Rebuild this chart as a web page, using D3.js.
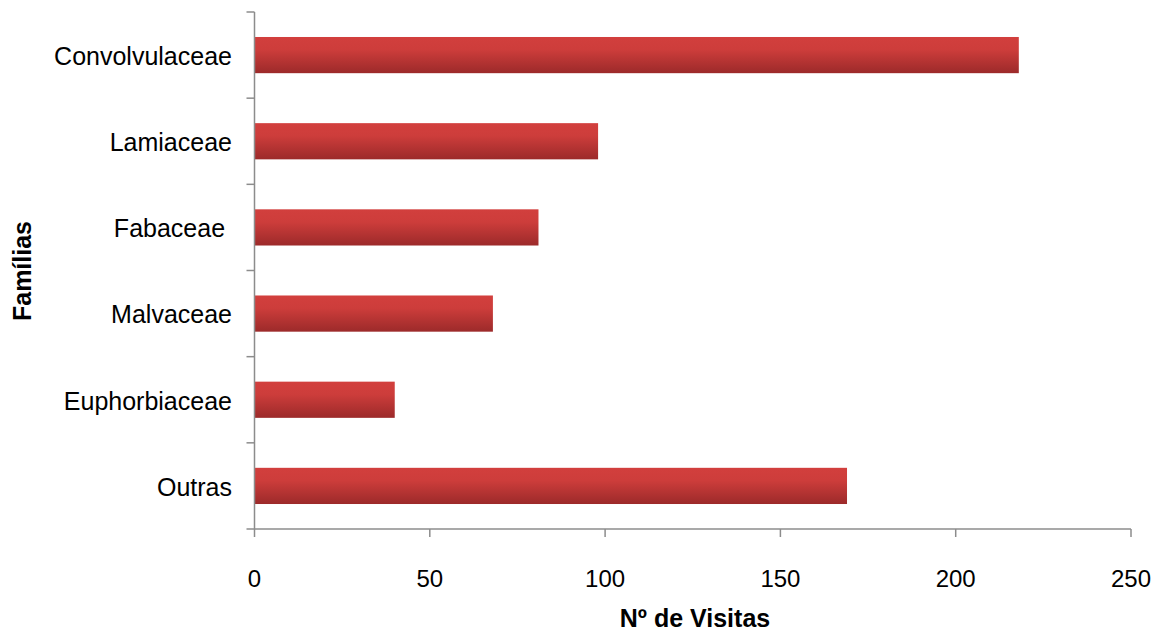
<!DOCTYPE html>
<html><head><meta charset="utf-8">
<script src="https://cdn.jsdelivr.net/npm/d3@7"></script>
<style>body{margin:0;background:#fff}text{font-family:"Liberation Sans",Arial,sans-serif;white-space:pre}</style>
</head><body><svg id="c" width="1162" height="632"></svg>
<script>
const categories = ["Convolvulaceae","Lamiaceae","Fabaceae ","Malvaceae","Euphorbiaceae","Outras"];
const values = [218, 98, 81, 68, 40, 169];
const xTicks = [0,50,100,150,200,250];

(function(){
const svg = d3.select("#c");
const mLeft = 254.5, mRight = 1131, mTop = 12, mBottom = 529;
const x = d3.scaleLinear().domain([0,250]).range([mLeft,mRight]);
const y = d3.scaleBand().domain(categories).range([mTop,mBottom]).paddingInner(0.58).paddingOuter(0.29);

const defs = svg.append("defs");
const g = defs.append("linearGradient").attr("id","bg").attr("x1",0).attr("y1",0).attr("x2",0).attr("y2",1);
g.append("stop").attr("offset","0%").attr("stop-color","#d23f3d");
g.append("stop").attr("offset","35%").attr("stop-color","#cd3d3b");
g.append("stop").attr("offset","100%").attr("stop-color","#9c2a2a");

const data = categories.map((c,i)=>({c,v:values[i]}));
svg.selectAll("rect.bar").data(data).join("rect").attr("class","bar")
  .attr("x",x(0)).attr("y",d=>y(d.c)).attr("width",d=>x(d.v)-x(0)).attr("height",y.bandwidth())
  .attr("fill","url(#bg)");

const axisColor = "#8c8c8c";
const ya = svg.append("g");
ya.append("line").attr("x1",mLeft).attr("x2",mLeft).attr("y1",mTop).attr("y2",mBottom).attr("stroke",axisColor).attr("stroke-width",1.5);
const step = (mBottom-mTop)/categories.length;
d3.range(categories.length+1).forEach(i=>{
  ya.append("line").attr("x1",mLeft-8).attr("x2",mLeft).attr("y1",mTop+i*step).attr("y2",mTop+i*step).attr("stroke",axisColor).attr("stroke-width",1.5);
});
ya.selectAll("text").data(categories).join("text")
  .attr("x",232).attr("y",d=>y(d)+y.bandwidth()/2+1).attr("dy","0.35em")
  .attr("text-anchor","end").attr("font-size",25).attr("fill","#000").text(d=>d);

const xa = svg.append("g");
xa.append("line").attr("x1",mLeft).attr("x2",mRight).attr("y1",mBottom).attr("y2",mBottom).attr("stroke",axisColor).attr("stroke-width",1.5);
xTicks.forEach(t=>{
  xa.append("line").attr("x1",x(t)).attr("x2",x(t)).attr("y1",mBottom).attr("y2",mBottom+8).attr("stroke",axisColor).attr("stroke-width",1.5);
  xa.append("text").attr("x",x(t)).attr("y",579).attr("dy","0.35em").attr("text-anchor","middle").attr("font-size",24).text(t);
});

svg.append("text").attr("x",695).attr("y",618).attr("dy","0.35em").attr("text-anchor","middle")
  .attr("font-size",25).attr("font-weight","bold").text("Nº de Visitas");
svg.append("text").attr("transform","translate(22,271) rotate(-90)").attr("dy","0.35em").attr("text-anchor","middle")
  .attr("font-size",25).attr("font-weight","bold").text("Famílias");
})();
</script></body></html>
